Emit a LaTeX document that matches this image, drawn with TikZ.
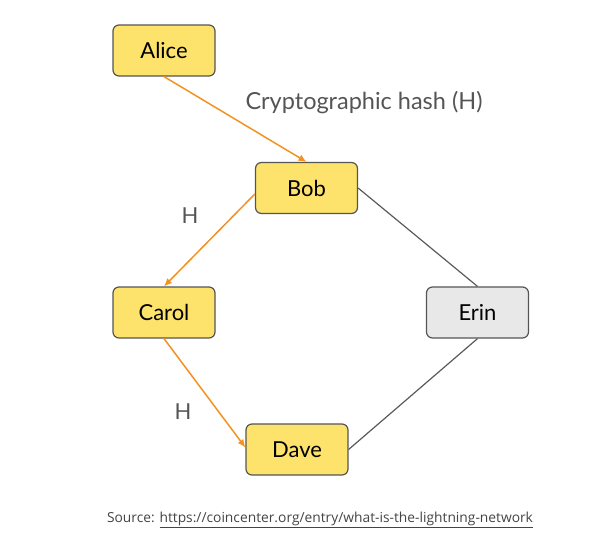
\documentclass[tikz,border=0pt]{standalone}
\usepackage{fontspec}
\setmainfont{Lato}
\newfontfamily\srcfont{Open Sans}
\usetikzlibrary{arrows.meta}
\definecolor{nodeyellow}{HTML}{FDE26C}
\definecolor{nodegrey}{HTML}{E8E8E8}
\definecolor{borderc}{HTML}{555555}
\definecolor{edgeorange}{HTML}{F39220}
\definecolor{edgegrey}{HTML}{5A5A5A}
\definecolor{labelgrey}{HTML}{555555}
\definecolor{srcgrey}{HTML}{444444}
\tikzset{
  person/.style={draw=borderc, line width=1.2pt, rounded corners=6pt, minimum width=102pt, minimum height=51pt, inner sep=0pt, font=\fontsize{22}{26}\selectfont, text=black, fill=nodeyellow},
  other/.style={person, fill=nodegrey},
  hashedge/.style={draw=edgeorange, line width=1.5pt, -{Latex[length=8pt,width=7pt]}},
  plainedge/.style={draw=edgegrey, line width=1.2pt},
  lbl/.style={text=labelgrey, font=\fontsize{23.5}{28}\selectfont, inner sep=0pt}
}
\begin{document}
\begin{tikzpicture}[x=1pt,y=-1pt]
\useasboundingbox (0,0) rectangle (595,546);
\node[person] (alice) at (164,50.5) {Alice};
\node[person] (bob) at (306.5,188) {Bob};
\node[person] (carol) at (164,312.5) {Carol};
\node[other] (erin) at (477.5,312.5) {Erin};
\node[person] (dave) at (297,449.5) {Dave};
\node[lbl] (hashlbl) at (364,103) {Cryptographic hash (H)};
\node[lbl, font=\fontsize{22}{26}\selectfont] (h1) at (190,216) {H};
\node[lbl, font=\fontsize{22}{26}\selectfont] (h2) at (183,412) {H};
\draw[hashedge] (alice.south) -- (bob.north);
\draw[hashedge] ([yshift=-6pt]bob.west) -- (carol.north);
\draw[hashedge] (carol.south) -- ([yshift=2pt]dave.west);
\draw[plainedge] (bob.east) -- (erin.north);
\draw[plainedge] (dave.east) -- (erin.south);
\node[text=srcgrey, font=\srcfont\fontsize{13.8}{16}\selectfont, inner sep=0pt] (src) at (320,520) {Source: \underline{https://coincenter.org/entry/what-is-the-lightning-network}};
\end{tikzpicture}
\end{document}
